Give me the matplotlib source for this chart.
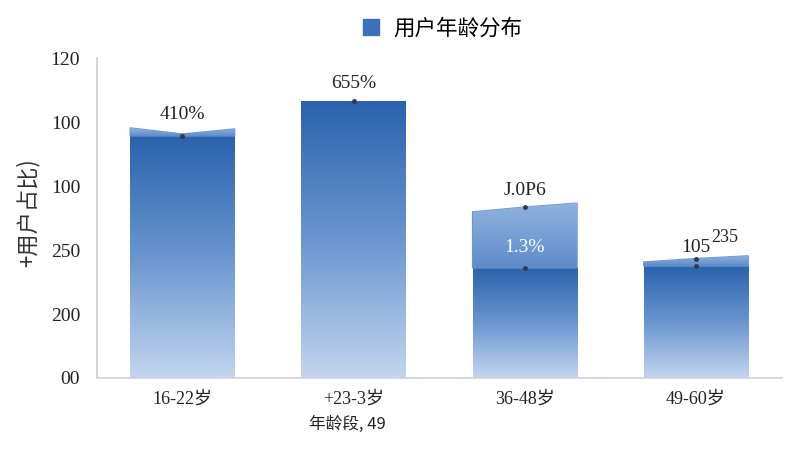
import numpy as np
import matplotlib
matplotlib.use("Agg")
import matplotlib.pyplot as plt
from matplotlib.colors import LinearSegmentedColormap
from matplotlib.lines import Line2D

# data (values in axis units, tick labels as shown)
categories = ['16-22岁', '+23-3岁', '36-48岁', '49-60岁']
bar_values = [90.8, 103.9, 41.3, 42.0]
# lighter cap on top of each bar: left edge, middle, right edge (None = no cap)
cap_left = [93.8, None, 62.3, 43.5]
cap_mid = [91.5, None, 64.1, 44.8]
cap_right = [93.4, None, 65.6, 45.8]
value_labels = ['410%', '655%', 'J.0P6', '105']
label_y = [98.8, 110.6, 70.5, 48.8]
inner_label = [None, None, '1.3%', None]
inner_label_y = [None, None, 49.0, None]
ytick_pos = [0, 24, 48, 72, 96, 120]
ytick_labels = ['00', '200', '250', '100', '100', '120']

serif = ['Liberation Serif', 'Noto Sans CJK SC']
cjk = ['Noto Sans CJK SC', 'DejaVu Sans']

fig = plt.figure(figsize=(8, 4.5), dpi=100)
ax = fig.add_axes([0.121, 0.16, 0.856, 0.711])

x = np.arange(len(categories))
width = 0.61
bars = ax.bar(x, bar_values, width, color='none', edgecolor='none')

grad_cmap = LinearSegmentedColormap.from_list('g', ['#c2d5ee', '#6a96d0', '#2a62ad'])
cap_cmap = LinearSegmentedColormap.from_list('c', ['#5e8bc8', '#8fb3df'])
grad = np.linspace(0, 1, 256).reshape(-1, 1)

for b in bars:
    x0, w, h = b.get_x(), b.get_width(), b.get_height()
    im = ax.imshow(grad, extent=[x0, x0 + w, 0, h], origin='lower',
                   aspect='auto', cmap=grad_cmap, zorder=2)
    im.set_clip_path(b)

for i, b in enumerate(bars):
    if cap_left[i] is None:
        continue
    x0, w, h = b.get_x(), b.get_width(), b.get_height()
    xs = [x0, x0, x0 + w / 2, x0 + w, x0 + w]
    ys = [h, cap_left[i], cap_mid[i], cap_right[i], h]
    poly = ax.fill(xs, ys, color='#6c96cf', zorder=2)[0]
    top = max(cap_left[i], cap_right[i])
    im = ax.imshow(grad, extent=[x0, x0 + w, h, top], origin='lower',
                   aspect='auto', cmap=cap_cmap, zorder=2.5)
    im.set_clip_path(poly)

# small marker dots on bar tops
for i, b in enumerate(bars):
    cx = b.get_x() + b.get_width() / 2
    ax.plot(cx, b.get_height(), 'o', ms=2.5, color='#333a45', zorder=4)
    if cap_mid[i] is not None and i != 0:
        ax.plot(cx, cap_mid[i], 'o', ms=2.5, color='#333a45', zorder=4)

for i in range(len(categories)):
    ax.text(x[i], label_y[i], value_labels[i], ha='center', va='center',
            fontsize=14, family=serif, color='#222222', zorder=5)
    if inner_label[i] is not None:
        ax.text(x[i], inner_label_y[i], inner_label[i], ha='center', va='center',
                fontsize=14, family=serif, color='white', zorder=5)
ax.text(x[3] + 0.09, 52.8, '235', ha='left', va='center', fontsize=13,
        family=serif, color='#222222', zorder=5)

ax.set_xlim(-0.5, 3.5)
ax.set_ylim(0, 120)
ax.set_xticks(x)
ax.set_xticklabels(categories, fontsize=13, family=serif, color='#222222')
ax.set_yticks(ytick_pos)
ax.set_yticklabels(ytick_labels, fontsize=14, family=serif, color='#222222')
ax.tick_params(length=0, pad=12)
ax.tick_params(axis='x', pad=9)

for s in ['top', 'right']:
    ax.spines[s].set_visible(False)
ax.spines['left'].set_color('#c9cdd5')
ax.spines['bottom'].set_color('#cfd3da')
ax.spines['left'].set_linewidth(1.2)
ax.spines['bottom'].set_linewidth(1.2)

ax.set_xlabel('年龄段, 49', fontsize=12, family=cjk, color='#222222')
ax.xaxis.set_label_coords(0.366, -0.118)
ax.set_ylabel('+用户占比)', fontsize=16, family=cjk, color='#333333')
ax.yaxis.set_label_coords(-0.083, 0.516)

handle = Line2D([], [], marker='s', linestyle='none', markersize=11,
                markerfacecolor='#3c70b8', markeredgecolor='#3c70b8')
fig.legend([handle], ['用户年龄分布'], loc='center', bbox_to_anchor=(0.545, 0.937),
           frameon=False, prop={'family': cjk, 'size': 15.5}, handletextpad=0.05)

fig.savefig('out.png', dpi=100)
